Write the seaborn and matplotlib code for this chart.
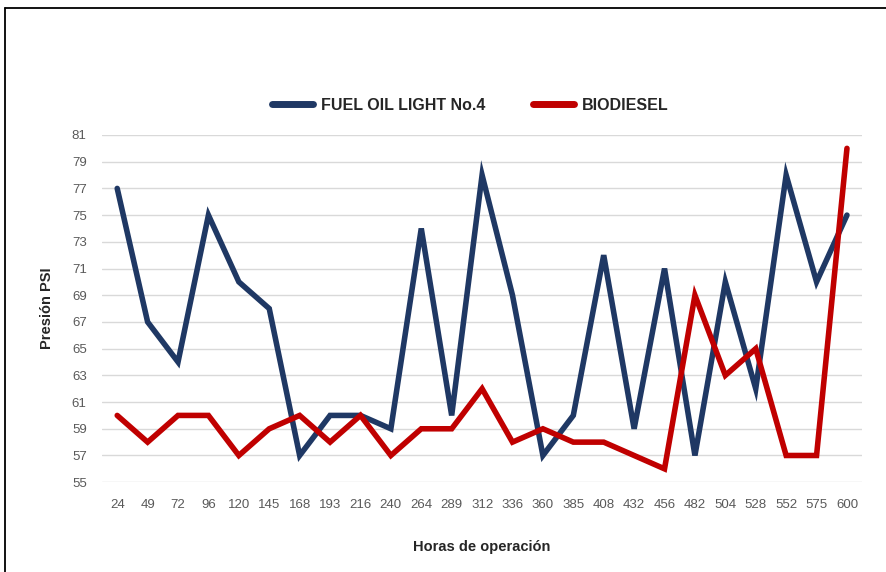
import numpy as np
import pandas as pd
import matplotlib
matplotlib.use("Agg")
import matplotlib.pyplot as plt
from matplotlib.lines import Line2D
import seaborn as sns

# datos
horas = [24, 49, 72, 96, 120, 145, 168, 193, 216, 240, 264, 289, 312,
         336, 360, 385, 408, 432, 456, 482, 504, 528, 552, 575, 600]
fuel_oil = [77, 67, 64, 75, 70, 68, 57, 60, 60, 59, 74, 60, 78,
            69, 57, 60, 72, 59, 71, 57, 70, 62, 78, 70, 75]
biodiesel = [60, 58, 60, 60, 57, 59, 60, 58, 60, 57, 59, 59, 62,
             58, 59, 58, 58, 57, 56, 69, 63, 65, 57, 57, 80]
y_ticks = list(range(55, 82, 2))

series = ["FUEL OIL LIGHT No.4", "BIODIESEL"]
colores = {"FUEL OIL LIGHT No.4": "#1F3864", "BIODIESEL": "#C00000"}

df = pd.DataFrame({
    "Horas": [str(h) for h in horas] * 2,
    "Presion": fuel_oil + biodiesel,
    "Serie": [series[0]] * len(horas) + [series[1]] * len(horas),
})

sns.set_style("white")
plt.rcParams["font.family"] = ["Liberation Sans", "DejaVu Sans"]

fig = plt.figure(figsize=(8.87, 5.72), dpi=100)
ax = fig.add_axes([0.115, 0.157, 0.857, 0.607])

sns.lineplot(data=df, x="Horas", y="Presion", hue="Serie", palette=colores,
             linewidth=4, ax=ax, sort=False, legend=False)
for ln in ax.lines:
    ln.set_solid_joinstyle("miter")
    ln.set_solid_capstyle("round")

ax.set_xlim(-0.5, len(horas) - 0.5)
ax.set_ylim(55, 81)
ax.set_yticks(y_ticks)
ax.yaxis.grid(True, color="#D9D9D9", linewidth=1)
ax.set_axisbelow(True)
for s in ax.spines.values():
    s.set_visible(False)
ax.tick_params(axis="both", length=0, labelsize=9.5, colors="#595959")
ax.tick_params(axis="x", pad=12)
ax.tick_params(axis="y", pad=11)

ax.set_xlabel("Horas de operación", fontsize=10.5, fontweight="bold",
              color="#262626", labelpad=21)
ax.set_ylabel("Presión PSI", fontsize=10.5, fontweight="bold",
              color="#262626", labelpad=13)

handles = [Line2D([0], [0], color=colores[s], linewidth=5,
                  solid_capstyle="round") for s in series]
fig.legend(handles, series, loc="center", bbox_to_anchor=(0.53, 0.816),
           ncol=2, frameon=False, handlelength=2.6, handletextpad=0.45,
           columnspacing=3.0, prop={"weight": "bold", "size": 11.5})

# marco exterior
fig.add_artist(Line2D([5 / 887, 5 / 887], [0, 1 - 8 / 572], color="black",
                      linewidth=1.3, transform=fig.transFigure))
fig.add_artist(Line2D([5 / 887, 1], [1 - 8 / 572, 1 - 8 / 572], color="black",
                      linewidth=1.3, transform=fig.transFigure))

fig.savefig("out.png", dpi=100)
